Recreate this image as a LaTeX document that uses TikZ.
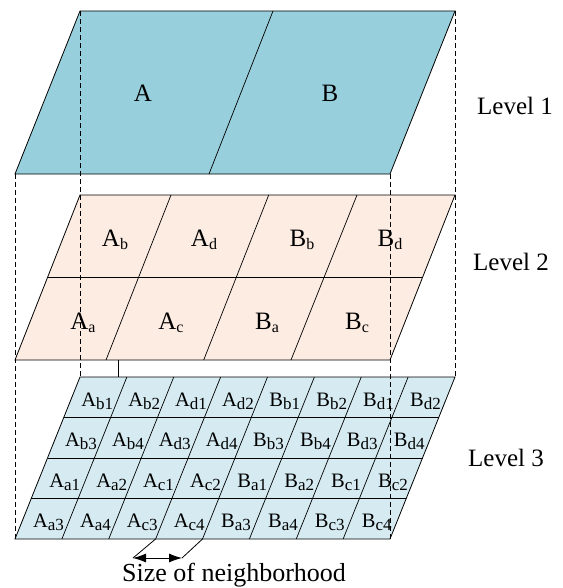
\documentclass[tikz,border=0pt]{standalone}
\usepackage{fontspec}
\setmainfont{Liberation Serif}
\usetikzlibrary{arrows.meta}
\definecolor{tealfill}{RGB}{152,207,220}
\definecolor{peach}{RGB}{252,236,226}
\definecolor{icefill}{RGB}{213,235,241}
% subscript of a region name: #1 size, #2 text
\newcommand{\regsub}[2]{\raisebox{-3pt}{\fontsize{#1}{#1}\selectfont #2}}
\newcommand{\two}[2]{#1\regsub{16}{#2}}
\newcommand{\three}[2]{#1\regsub{17}{#2}}
\tikzset{
  plane/.style={draw=black,line width=0.8pt},
  gridline/.style={draw=black,line width=0.7pt},
  guide/.style={dash pattern=on 5pt off 3pt,line width=0.7pt},
  biglbl/.style={font=\fontsize{25}{30}\selectfont,inner sep=0pt,anchor=base},
  smalllbl/.style={font=\fontsize{20.5}{24}\selectfont,inner sep=0pt,anchor=base},
  levellbl/.style={font=\fontsize{25}{30}\selectfont,inner sep=0pt,anchor=base west},
  sizearrow/.style={{Latex[length=13pt,width=9pt]}-{Latex[length=13pt,width=9pt]},line width=0.8pt}
}

\begin{document}
\begin{tikzpicture}[x=1pt,y=-1pt]
  \useasboundingbox (0,0) rectangle (562,588);

  % level 1
  \coordinate (l1tl) at (80,11);   \coordinate (l1tr) at (455,11);
  \coordinate (l1br) at (390,174); \coordinate (l1bl) at (15,174);
  \filldraw[plane,fill=tealfill] (l1tl) -- (l1tr) -- (l1br) -- (l1bl) -- cycle;
  \draw[gridline] (273,11) -- (209,174);
  \node[biglbl] (regA) at (143,101.7) {A};
  \node[biglbl] (regB) at (330,101.7) {B};

  % level 2
  \coordinate (l2tl) at (80,195);  \coordinate (l2tr) at (455,195);
  \coordinate (l2br) at (390,360); \coordinate (l2bl) at (15,360);
  \filldraw[plane,fill=peach] (l2tl) -- (l2tr) -- (l2br) -- (l2bl) -- cycle;
  \draw[gridline] (47.5,277.5) -- (422.5,277.5);
  \foreach \xt/\xb in {171/106,268.7/203.7,357/291}
    \draw[gridline] (\xt,195) -- (\xb,360);
  \node[biglbl] (Ab) at (115,246) {\two{A}{b}};
  \node[biglbl] (Ad) at (204,246) {\two{A}{d}};
  \node[biglbl] (Bb) at (302,246) {\two{B}{b}};
  \node[biglbl] (Bd) at (390,246) {\two{B}{d}};
  \node[biglbl] (Aa) at (83,329) {\two{A}{a}};
  \node[biglbl] (Ac) at (171,329) {\two{A}{c}};
  \node[biglbl] (Ba) at (267,329) {\two{B}{a}};
  \node[biglbl] (Bc) at (357,329) {\two{B}{c}};

  % level 3
  \coordinate (l3tl) at (80,377);  \coordinate (l3tr) at (455,377);
  \coordinate (l3br) at (390,539); \coordinate (l3bl) at (15,539);
  \filldraw[plane,fill=icefill] (l3tl) -- (l3tr) -- (l3br) -- (l3bl) -- cycle;
  \foreach \r in {1,2,3}
    \draw[gridline] ({80-16.25*\r},{377+40.5*\r}) -- ({455-16.25*\r},{377+40.5*\r});
  \foreach \c in {1,...,7}
    \draw[gridline] ({80+46.875*\c},377) -- ({15+46.875*\c},539);
  \foreach \txt [count=\i from 0] in {%
      \three{A}{b1},\three{A}{b2},\three{A}{d1},\three{A}{d2},
      \three{B}{b1},\three{B}{b2},\three{B}{d1},\three{B}{d2},
      \three{A}{b3},\three{A}{b4},\three{A}{d3},\three{A}{d4},
      \three{B}{b3},\three{B}{b4},\three{B}{d3},\three{B}{d4},
      \three{A}{a1},\three{A}{a2},\three{A}{c1},\three{A}{c2},
      \three{B}{a1},\three{B}{a2},\three{B}{c1},\three{B}{c2},
      \three{A}{a3},\three{A}{a4},\three{A}{c3},\three{A}{c4},
      \three{B}{a3},\three{B}{a4},\three{B}{c3},\three{B}{c4}} {
    \pgfmathsetmacro\col{mod(\i,8)}
    \pgfmathsetmacro\row{int(\i/8)}
    \node[smalllbl] (cell\i) at ({82+46.875*(\col+0.5)-16.25*(\row+0.5)},{386+40.5*(\row+0.5)}) {\txt};
  }

  % tab between level 2 and level 3
  \coordinate (tabtop) at (118,360);
  \coordinate (tabbot) at (118,377);
  \draw[plane] (tabtop) -- (tabbot);

  % projection guides
  \draw[guide] (l1tl) -- (l3tl);
  \draw[guide] (l1tr) -- (l3tr);
  \draw[guide] (l1bl) -- (l3bl);
  \draw[guide] (l1br) -- (l3br);

  % neighborhood size
  \coordinate (nbl) at (155.6,539);
  \coordinate (nbr) at (202.5,539);
  \coordinate (arl) at (133,558);
  \coordinate (arr) at (182,558);
  \draw[plane] (nbl) -- (arl);
  \draw[plane] (nbr) -- (arr);
  \draw[sizearrow] (arl) -- (arr);
  \node[biglbl,font=\fontsize{26}{30}\selectfont] (nbsize) at (234,581.7) {Size of neighborhood};

  % level names
  \node[levellbl] (lev1) at (477,115) {Level 1};
  \node[levellbl] (lev2) at (473,270) {Level 2};
  \node[levellbl] (lev3) at (468,466) {Level 3};
\end{tikzpicture}
\end{document}
